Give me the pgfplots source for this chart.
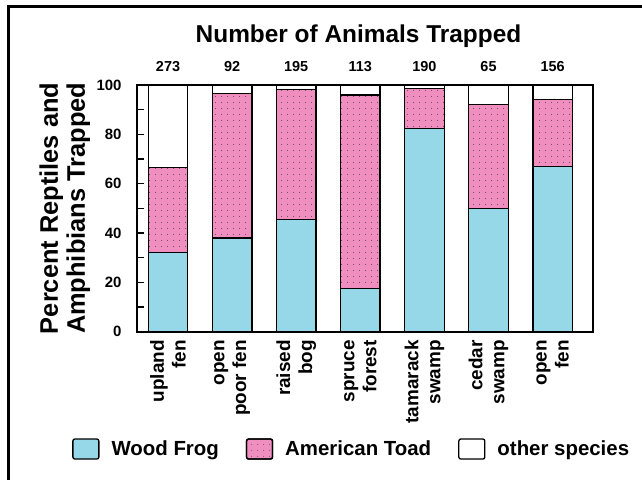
\documentclass[border=0pt]{standalone}
\usepackage{fontspec}
\setmainfont{Liberation Sans}
\usepackage{pgfplots}
\pgfplotsset{compat=1.18}
\usetikzlibrary{patterns.meta}

\definecolor{frogblue}{RGB}{150,216,232}
\definecolor{toadpink}{RGB}{240,142,192}

\begin{document}
\begin{tikzpicture}
\path[use as bounding box] (0,0) rectangle (642bp,480bp);
% frame (top and left edges only)
\draw[line width=2.7bp] (8.7bp,0) -- (8.7bp,473.7bp) -- (642bp,473.7bp);

\begin{axis}[
    at={(137bp,148.3bp)}, anchor=south west,
    scale only axis,
    width=456bp, height=246.7bp,
    ybar stacked,
    bar width=39.5bp,
    xmin=-0.484, xmax=6.63,
    ymin=0, ymax=100,
    xtick={0,...,6},
    xticklabels={{upland\\fen},{open\\poor fen},{raised\\bog},{spruce\\forest},{tamarack\\swamp},{cedar\\swamp},{open\\fen}},
    xtick style={draw=none},
    xticklabel style={rotate=90, anchor=east, align=right,
        font=\bfseries\fontsize{19}{22}\selectfont},
    xticklabel shift=5bp,
    ytick={0,20,...,100},
    minor ytick={10,30,...,90},
    ytick pos=left,
    tick align=inside,
    major tick length=7bp, minor tick length=7bp,
    every tick/.style={black, line width=1.2bp},
    yticklabel style={font=\bfseries\fontsize{15}{17}\selectfont},
    yticklabel shift=12bp,
    /pgf/number format/assume math mode=true,
    axis line style={line width=1.6bp},
    title={Number of Animals Trapped},
    title style={at={(axis description cs:0.4857,1.150)}, anchor=base,
        font=\bfseries\fontsize{24.5}{28}\selectfont},
    ylabel={Percent Reptiles and\\Amphibians Trapped},
    every axis y label/.style={at={(axis description cs:-0.095,0.5)},
        rotate=90, anchor=south, align=center,
        font=\bfseries\fontsize{25.5}{27}\selectfont},
    legend columns=3,
    legend style={at={(axis description cs:-0.1425,-0.4756)}, anchor=west,
        draw=none, fill=none, inner sep=0pt,
        font=\bfseries\fontsize{20.5}{24}\selectfont,
        /tikz/every odd column/.append style={column sep=10bp},
        /tikz/every even column/.append style={column sep=25bp}},
    legend image code/.code={
        \draw[#1, rounded corners=2bp, line width=1.3bp] (0bp,-10bp) rectangle (26bp,10bp);},
]
% Wood Frog
\addplot[fill=frogblue, draw=black, line width=1.3bp] coordinates {
    (0,32) (1,38) (2,45.5) (3,17.5) (4,82.5) (5,50) (6,67)
};
\addlegendentry{Wood Frog}
% American Toad
\addplot[fill=toadpink, draw=black, line width=1.3bp,
    postaction={pattern={Dots[distance=6bp, radius=0.55bp]}, pattern color=black!75}] coordinates {
    (0,34.5) (1,58.5) (2,52.7) (3,78.5) (4,16) (5,42) (6,27)
};
\addlegendentry{American Toad}
% other species; the number of animals trapped is set above each bar
% (stacked nodes sit mid-segment, so shift them up by half the segment)
\addplot[fill=white, draw=black, line width=1.3bp,
    point meta=explicit symbolic,
    visualization depends on=rawy \as \rawy,
    nodes near coords,
    every node near coord/.style={anchor=base, yshift=13bp+\rawy*1.2335bp, black,
        font=\bfseries\fontsize{14.5}{16}\selectfont}] coordinates {
    (0,33.5) [273] (1,3.5) [92] (2,1.8) [195] (3,4) [113] (4,1.5) [190] (5,8) [65] (6,6) [156]
};
\addlegendentry{other species}
\end{axis}
\end{tikzpicture}
\end{document}
